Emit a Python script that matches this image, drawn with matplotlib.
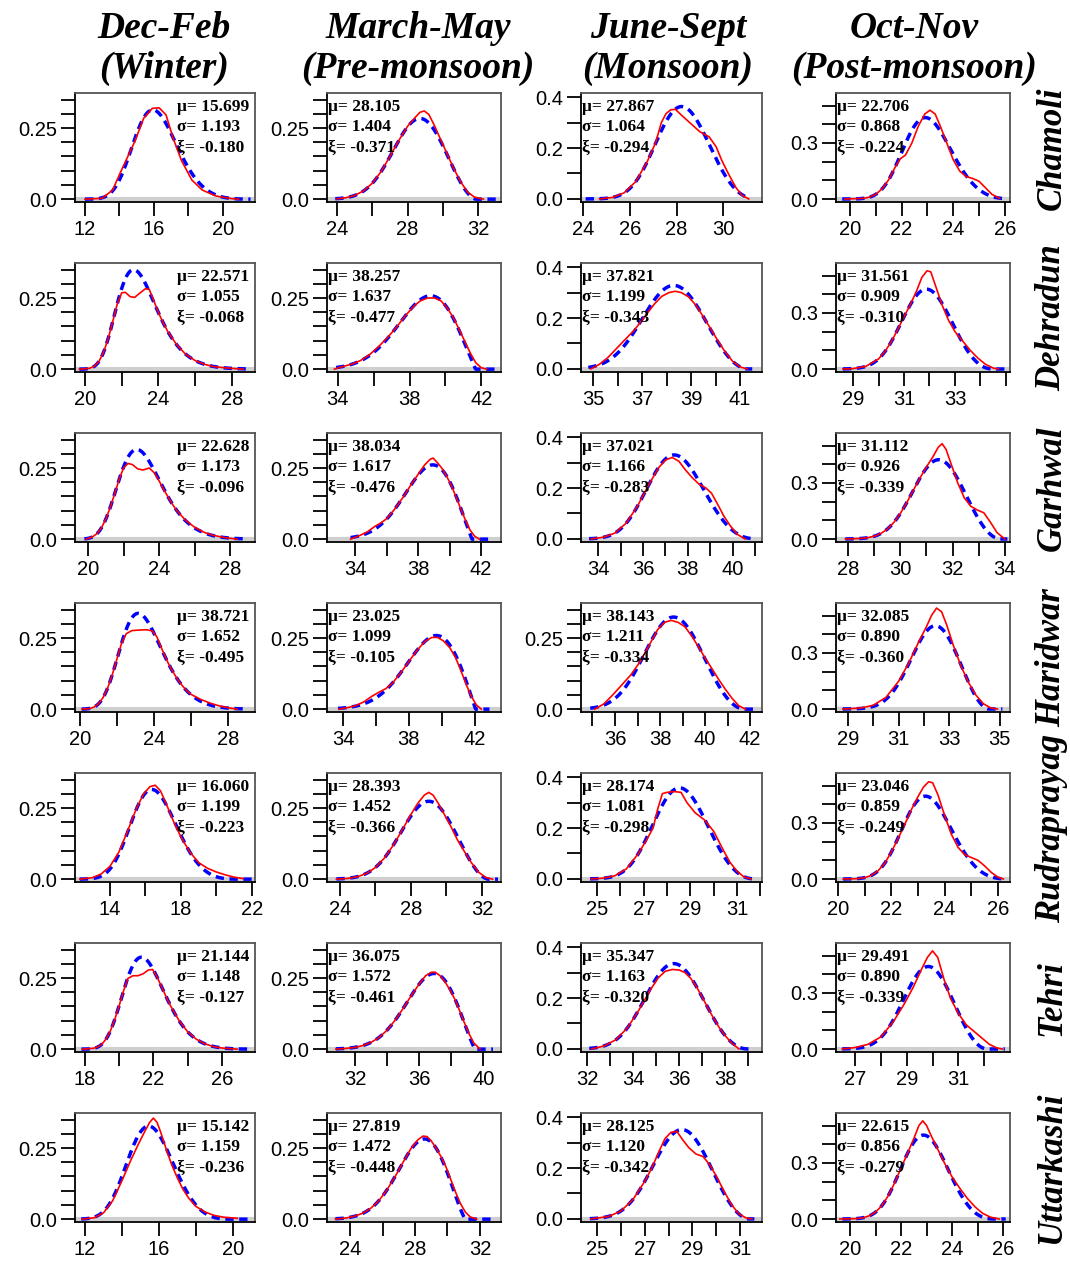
"""Seasonal maximum-temperature densities with GEV fits for seven stations."""

import matplotlib

matplotlib.use("Agg")
import matplotlib.pyplot as plt  # noqa: E402
import numpy as np  # noqa: E402

SEASONS = [("Dec-Feb", "(Winter)"), ("March-May", "(Pre-monsoon)"),
           ("June-Sept", "(Monsoon)"), ("Oct-Nov", "(Post-monsoon)")]
STATIONS = ["Chamoli", "Dehradun", "Garhwal", "Haridwar",
            "Rudraprayag", "Tehri", "Uttarkashi"]

# GEV parameters as printed in each panel (rows = stations, cols = seasons)
MU = [[15.699, 28.105, 27.867, 22.706],
      [22.571, 38.257, 37.821, 31.561],
      [22.628, 38.034, 37.021, 31.112],
      [38.721, 23.025, 38.143, 32.085],
      [16.060, 28.393, 28.174, 23.046],
      [21.144, 36.075, 35.347, 29.491],
      [15.142, 27.819, 28.125, 22.615]]
SIGMA = [[1.193, 1.404, 1.064, 0.868],
         [1.055, 1.637, 1.199, 0.909],
         [1.173, 1.617, 1.166, 0.926],
         [1.652, 1.099, 1.211, 0.890],
         [1.199, 1.452, 1.081, 0.859],
         [1.148, 1.572, 1.163, 0.890],
         [1.159, 1.472, 1.120, 0.856]]
XI = [[-0.180, -0.371, -0.294, -0.224],
      [-0.068, -0.477, -0.343, -0.310],
      [-0.096, -0.476, -0.283, -0.339],
      [-0.495, -0.105, -0.334, -0.360],
      [-0.223, -0.366, -0.298, -0.249],
      [-0.127, -0.461, -0.320, -0.339],
      [-0.236, -0.448, -0.342, -0.279]]
# Haridwar's winter / pre-monsoon boxes carry each other's parameters
FIT_SWAP = {(3, 0): (3, 1), (3, 1): (3, 0)}

# x-range over which the fitted curve is drawn
FIT_SPAN = [[(12.0, 21.6), (23.9, 33.0), (24.1, 31.1), (19.7, 26.1)],
            [(19.7, 29.0), (33.9, 42.8), (34.8, 41.5), (28.6, 35.0)],
            [(19.8, 29.0), (33.7, 42.8), (33.6, 40.9), (27.9, 34.1)],
            [(20.1, 29.0), (33.7, 42.9), (34.9, 42.2), (28.8, 35.1)],
            [(12.3, 22.0), (23.8, 32.9), (24.7, 31.8), (20.2, 26.3)],
            [(17.8, 27.6), (30.8, 40.6), (32.1, 39.2), (26.5, 32.8)],
            [(11.8, 21.0), (23.1, 32.9), (24.7, 31.6), (19.7, 26.1)]]

# empirical (kernel) densities, one (x, y) pair per season
red_chamoli = [
    ([12.0, 13.0, 13.6, 14.1, 14.9, 15.4, 15.9, 16.3, 16.7, 17.1, 17.6, 18.2, 18.8, 19.6, 20.5, 20.9],
     [0.0, 0.003, 0.032, 0.100, 0.204, 0.284, 0.319, 0.321, 0.296, 0.216, 0.135, 0.067, 0.032, 0.011, 0.002, 0.0]),
    ([24.0, 24.5, 25.0, 25.5, 26.0, 26.5, 27.0, 27.5, 28.0, 28.4, 28.7, 28.95, 29.2, 29.5, 29.8, 30.2, 30.6, 31.0, 31.4, 31.8, 32.3],
     [0.001, 0.005, 0.013, 0.029, 0.056, 0.097, 0.150, 0.206, 0.256, 0.285, 0.305, 0.310, 0.298, 0.262, 0.220, 0.165, 0.110, 0.062, 0.025, 0.007, 0.0]),
    ([24.7, 25.25, 25.75, 26.25, 26.75, 27.1, 27.35, 27.55, 27.75, 27.95, 28.2, 28.6, 29.0, 29.4, 29.7, 29.95, 30.25, 30.55, 30.8, 31.1],
     [0.0, 0.006, 0.024, 0.068, 0.148, 0.220, 0.300, 0.335, 0.350, 0.352, 0.330, 0.297, 0.264, 0.244, 0.205, 0.150, 0.095, 0.045, 0.015, 0.0]),
    ([19.8, 20.5, 20.75, 21.0, 21.25, 21.5, 21.75, 21.95, 22.15, 22.4, 22.65, 22.9, 23.1, 23.3, 23.5, 23.75, 24.0, 24.25, 24.5, 24.75, 25.0, 25.25, 25.5, 25.8],
     [0.0, 0.003, 0.010, 0.025, 0.055, 0.103, 0.170, 0.215, 0.235, 0.300, 0.390, 0.455, 0.475, 0.455, 0.390, 0.300, 0.210, 0.150, 0.120, 0.110, 0.095, 0.060, 0.025, 0.003]),
]
red_dehradun = [
    ([19.7, 20.25, 20.5, 20.75, 21.0, 21.25, 21.5, 21.75, 22.0, 22.2, 22.45, 22.7, 23.0, 23.3, 23.5, 23.75, 24.0, 24.25, 24.5, 25.0, 25.5, 26.0, 26.5, 27.0, 27.75, 28.6],
     [0.0, 0.003, 0.010, 0.026, 0.057, 0.104, 0.164, 0.227, 0.268, 0.270, 0.255, 0.252, 0.268, 0.283, 0.280, 0.240, 0.198, 0.164, 0.133, 0.085, 0.051, 0.030, 0.017, 0.009, 0.004, 0.0]),
    ([33.8, 34.25, 34.75, 35.25, 35.75, 36.25, 36.75, 37.25, 37.75, 38.25, 38.6, 39.0, 39.4, 39.75, 40.1, 40.45, 40.8, 41.1, 41.4, 41.7, 42.0, 42.3],
     [0.0, 0.009, 0.017, 0.030, 0.050, 0.078, 0.110, 0.146, 0.187, 0.222, 0.240, 0.250, 0.250, 0.240, 0.215, 0.180, 0.135, 0.095, 0.055, 0.022, 0.005, 0.0]),
    ([34.9, 35.25, 35.6, 35.9, 36.3, 36.7, 37.1, 37.5, 37.8, 38.1, 38.35, 38.6, 38.9, 39.2, 39.5, 39.8, 40.1, 40.4, 40.7, 41.0, 41.3],
     [0.0, 0.018, 0.045, 0.075, 0.115, 0.155, 0.205, 0.255, 0.285, 0.300, 0.305, 0.300, 0.283, 0.250, 0.205, 0.158, 0.110, 0.066, 0.030, 0.008, 0.0]),
    ([28.6, 29.0, 29.5, 30.0, 30.25, 30.5, 30.75, 31.0, 31.25, 31.5, 31.7, 31.9, 32.05, 32.25, 32.5, 32.75, 33.0, 33.3, 33.6, 33.9, 34.2, 34.5, 34.7],
     [0.0, 0.002, 0.014, 0.054, 0.093, 0.146, 0.210, 0.280, 0.345, 0.420, 0.490, 0.525, 0.520, 0.440, 0.340, 0.260, 0.200, 0.150, 0.100, 0.058, 0.025, 0.005, 0.0]),
]
red_garhwal = [
    ([19.9, 20.25, 20.5, 20.75, 21.0, 21.25, 21.5, 21.75, 22.0, 22.25, 22.5, 22.8, 23.1, 23.45, 23.75, 24.0, 24.25, 24.5, 24.75, 25.0, 25.5, 26.0, 26.5, 27.0, 27.75, 28.4],
     [0.0, 0.008, 0.019, 0.039, 0.070, 0.111, 0.159, 0.209, 0.250, 0.266, 0.262, 0.247, 0.243, 0.250, 0.232, 0.205, 0.176, 0.149, 0.123, 0.100, 0.066, 0.042, 0.025, 0.014, 0.005, 0.0]),
    ([33.7, 34.25, 34.75, 35.25, 35.6, 36.0, 36.5, 37.0, 37.5, 38.0, 38.4, 38.75, 38.95, 39.2, 39.5, 39.8, 40.1, 40.4, 40.7, 41.0, 41.3, 41.6, 41.9],
     [0.0, 0.012, 0.025, 0.045, 0.056, 0.072, 0.105, 0.144, 0.187, 0.228, 0.260, 0.280, 0.285, 0.270, 0.250, 0.222, 0.190, 0.150, 0.108, 0.068, 0.032, 0.010, 0.0]),
    ([33.7, 34.25, 34.75, 35.25, 35.75, 36.25, 36.7, 37.0, 37.3, 37.6, 37.9, 38.2, 38.5, 38.8, 39.05, 39.3, 39.6, 39.9, 40.2, 40.55],
     [0.0, 0.007, 0.023, 0.062, 0.128, 0.212, 0.280, 0.310, 0.320, 0.305, 0.270, 0.240, 0.215, 0.200, 0.180, 0.140, 0.090, 0.050, 0.018, 0.0]),
    ([27.9, 28.5, 28.75, 29.0, 29.25, 29.5, 29.75, 30.0, 30.25, 30.5, 30.75, 31.0, 31.25, 31.45, 31.6, 31.75, 31.95, 32.2, 32.45, 32.7, 32.95, 33.2, 33.45, 33.7, 34.0],
     [0.0, 0.003, 0.007, 0.015, 0.029, 0.052, 0.088, 0.136, 0.195, 0.261, 0.325, 0.385, 0.440, 0.490, 0.510, 0.480, 0.400, 0.300, 0.220, 0.175, 0.155, 0.140, 0.090, 0.035, 0.0]),
]
red_haridwar = [
    ([20.1, 20.5, 20.75, 21.0, 21.25, 21.5, 21.75, 22.0, 22.25, 22.5, 22.8, 23.2, 23.6, 23.9, 24.15, 24.4, 24.75, 25.0, 25.25, 25.5, 25.75, 26.0, 26.5, 27.0, 27.5, 28.0, 28.5],
     [0.0, 0.002, 0.007, 0.019, 0.041, 0.075, 0.122, 0.177, 0.232, 0.265, 0.276, 0.278, 0.279, 0.275, 0.255, 0.215, 0.164, 0.134, 0.107, 0.085, 0.066, 0.052, 0.035, 0.022, 0.012, 0.005, 0.0]),
    ([33.75, 34.25, 34.75, 35.25, 35.75, 36.2, 36.6, 37.0, 37.5, 38.0, 38.5, 39.0, 39.4, 39.75, 40.1, 40.5, 40.85, 41.2, 41.5, 41.8, 42.1, 42.4],
     [0.0, 0.005, 0.012, 0.025, 0.045, 0.060, 0.072, 0.091, 0.127, 0.167, 0.207, 0.239, 0.252, 0.252, 0.240, 0.215, 0.180, 0.130, 0.085, 0.045, 0.015, 0.0]),
    ([35.1, 35.5, 35.9, 36.3, 36.7, 37.1, 37.5, 37.9, 38.2, 38.5, 38.8, 39.1, 39.4, 39.7, 40.0, 40.3, 40.6, 40.9, 41.2, 41.5, 41.8],
     [0.0, 0.018, 0.050, 0.085, 0.120, 0.165, 0.222, 0.280, 0.305, 0.312, 0.305, 0.290, 0.258, 0.220, 0.180, 0.143, 0.105, 0.070, 0.038, 0.012, 0.0]),
    ([28.8, 29.5, 30.0, 30.5, 31.0, 31.4, 31.8, 32.1, 32.3, 32.5, 32.7, 32.9, 33.15, 33.45, 33.75, 34.05, 34.35, 34.65, 34.9],
     [0.0, 0.005, 0.020, 0.062, 0.148, 0.245, 0.360, 0.440, 0.500, 0.540, 0.520, 0.450, 0.345, 0.235, 0.145, 0.075, 0.028, 0.005, 0.0]),
]
red_rudraprayag = [
    ([12.3, 13.0, 13.5, 14.0, 14.5, 15.0, 15.5, 15.9, 16.25, 16.55, 16.85, 17.2, 17.6, 18.0, 18.5, 19.0, 19.5, 20.0, 20.5, 21.0, 21.5],
     [0.0, 0.005, 0.018, 0.045, 0.095, 0.170, 0.250, 0.300, 0.325, 0.330, 0.310, 0.260, 0.200, 0.148, 0.095, 0.058, 0.038, 0.025, 0.015, 0.007, 0.002]),
    ([23.8, 24.5, 25.0, 25.5, 26.0, 26.5, 27.0, 27.5, 28.0, 28.4, 28.75, 29.0, 29.25, 29.55, 29.9, 30.25, 30.6, 31.0, 31.4, 31.8, 32.2, 32.6],
     [0.0, 0.003, 0.009, 0.020, 0.041, 0.074, 0.119, 0.172, 0.228, 0.268, 0.295, 0.305, 0.295, 0.265, 0.225, 0.185, 0.140, 0.098, 0.058, 0.025, 0.006, 0.0]),
    ([24.75, 25.25, 25.75, 26.25, 26.75, 27.1, 27.4, 27.6, 27.8, 28.0, 28.3, 28.6, 28.85, 29.2, 29.6, 30.0, 30.4, 30.7, 31.0, 31.3, 31.6],
     [0.0, 0.003, 0.012, 0.039, 0.097, 0.150, 0.200, 0.275, 0.335, 0.340, 0.343, 0.340, 0.300, 0.260, 0.232, 0.187, 0.115, 0.065, 0.030, 0.008, 0.0]),
    ([20.2, 20.75, 21.0, 21.25, 21.5, 21.75, 22.0, 22.25, 22.5, 22.75, 23.0, 23.2, 23.4, 23.55, 23.75, 24.0, 24.25, 24.5, 24.75, 25.0, 25.25, 25.5, 25.75, 26.0, 26.2],
     [0.0, 0.002, 0.007, 0.019, 0.043, 0.083, 0.143, 0.215, 0.290, 0.370, 0.440, 0.490, 0.520, 0.515, 0.450, 0.340, 0.240, 0.170, 0.130, 0.115, 0.100, 0.070, 0.035, 0.010, 0.0]),
]
red_tehri = [
    ([17.85, 18.5, 18.75, 19.0, 19.25, 19.5, 19.75, 20.0, 20.25, 20.5, 20.8, 21.1, 21.4, 21.7, 21.95, 22.2, 22.5, 22.75, 23.0, 23.5, 24.0, 24.5, 25.0, 25.5, 26.0, 26.9],
     [0.0, 0.003, 0.008, 0.018, 0.037, 0.066, 0.106, 0.153, 0.204, 0.248, 0.258, 0.258, 0.265, 0.278, 0.280, 0.255, 0.216, 0.183, 0.152, 0.100, 0.061, 0.035, 0.019, 0.009, 0.004, 0.0]),
    ([30.8, 31.5, 32.0, 32.5, 33.0, 33.5, 34.0, 34.5, 35.0, 35.5, 36.0, 36.4, 36.75, 37.0, 37.3, 37.6, 37.9, 38.2, 38.5, 38.8, 39.1, 39.4, 39.8],
     [0.0, 0.003, 0.006, 0.013, 0.024, 0.041, 0.067, 0.102, 0.143, 0.188, 0.229, 0.258, 0.270, 0.270, 0.258, 0.237, 0.210, 0.178, 0.138, 0.095, 0.055, 0.022, 0.0]),
    ([32.2, 32.75, 33.25, 33.75, 34.25, 34.75, 35.1, 35.4, 35.7, 36.0, 36.25, 36.5, 36.75, 37.0, 37.25, 37.5, 37.75, 38.0, 38.3, 38.6],
     [0.0, 0.012, 0.036, 0.082, 0.152, 0.232, 0.280, 0.305, 0.312, 0.310, 0.300, 0.278, 0.245, 0.204, 0.161, 0.120, 0.083, 0.052, 0.022, 0.0]),
    ([26.5, 27.0, 27.5, 28.0, 28.5, 28.9, 29.25, 29.55, 29.8, 30.0, 30.2, 30.45, 30.7, 31.0, 31.3, 31.6, 31.9, 32.2, 32.5, 32.7],
     [0.0, 0.008, 0.025, 0.065, 0.150, 0.240, 0.330, 0.420, 0.490, 0.525, 0.490, 0.370, 0.270, 0.190, 0.130, 0.095, 0.060, 0.025, 0.005, 0.0]),
]
red_uttarkashi = [
    ([11.85, 12.5, 13.0, 13.5, 14.0, 14.5, 14.9, 15.25, 15.5, 15.7, 15.9, 16.1, 16.4, 16.7, 17.0, 17.3, 17.6, 18.0, 18.5, 19.0, 19.5, 20.25],
     [0.0, 0.005, 0.022, 0.065, 0.135, 0.210, 0.265, 0.310, 0.340, 0.355, 0.340, 0.305, 0.245, 0.190, 0.145, 0.105, 0.075, 0.045, 0.025, 0.013, 0.007, 0.003]),
    ([23.1, 23.75, 24.25, 24.75, 25.25, 25.75, 26.25, 26.75, 27.25, 27.75, 28.2, 28.5, 28.75, 29.0, 29.3, 29.6, 29.9, 30.2, 30.5, 30.8, 31.1, 31.4, 31.8],
     [0.0, 0.004, 0.010, 0.020, 0.037, 0.063, 0.101, 0.147, 0.198, 0.248, 0.280, 0.292, 0.290, 0.275, 0.250, 0.220, 0.185, 0.140, 0.095, 0.055, 0.025, 0.008, 0.0]),
    ([24.75, 25.5, 26.0, 26.5, 27.0, 27.3, 27.6, 27.85, 28.1, 28.35, 28.6, 28.85, 29.15, 29.45, 29.75, 30.05, 30.35, 30.65, 30.95, 31.25, 31.5],
     [0.0, 0.010, 0.031, 0.075, 0.147, 0.200, 0.265, 0.315, 0.340, 0.344, 0.310, 0.280, 0.255, 0.245, 0.210, 0.160, 0.105, 0.055, 0.020, 0.004, 0.0]),
    ([19.6, 20.25, 20.5, 20.75, 21.0, 21.25, 21.5, 21.75, 22.0, 22.25, 22.5, 22.7, 22.85, 23.0, 23.2, 23.45, 23.7, 24.0, 24.3, 24.6, 24.9, 25.2, 25.5, 25.85],
     [0.0, 0.002, 0.006, 0.017, 0.037, 0.072, 0.125, 0.194, 0.273, 0.350, 0.430, 0.500, 0.525, 0.500, 0.440, 0.370, 0.300, 0.225, 0.165, 0.110, 0.065, 0.030, 0.010, 0.0]),
]
RED = [red_chamoli, red_dehradun, red_garhwal, red_haridwar,
       red_rudraprayag, red_tehri, red_uttarkashi]

# x axis per panel: limits, minor step, labelled ticks
XLIM = [[(11.42, 21.86), (23.43, 33.3), (23.9, 31.67), (19.46, 26.2)],
        [(19.46, 29.25), (33.39, 43.1), (34.5, 41.9), (28.33, 35.16)],
        [(19.27, 29.4), (32.2, 43.27), (33.24, 41.3), (27.54, 34.2)],
        [(19.73, 29.46), (33.03, 43.6), (34.49, 42.53), (28.53, 35.4)],
        [(12.03, 22.17), (23.27, 33.07), (24.31, 32.07), (19.93, 26.45)],
        [(17.42, 27.93), (30.25, 41.1), (31.74, 39.6), (26.26, 33.0)],
        [(11.46, 21.2), (22.58, 33.3), (24.33, 31.92), (19.45, 26.27)]]
XSTEP = [[2, 2, 2, 1], [2, 2, 1, 1], [2, 2, 1, 1], [2, 2, 1, 1],
         [2, 2, 1, 1], [2, 2, 1, 1], [2, 2, 1, 1]]
XLABELS = [[[12, 16, 20], [24, 28, 32], [24, 26, 28, 30], [20, 22, 24, 26]],
           [[20, 24, 28], [34, 38, 42], [35, 37, 39, 41], [29, 31, 33]],
           [[20, 24, 28], [34, 38, 42], [34, 36, 38, 40], [28, 30, 32, 34]],
           [[20, 24, 28], [34, 38, 42], [36, 38, 40, 42], [29, 31, 33, 35]],
           [[14, 18, 22], [24, 28, 32], [25, 27, 29, 31], [20, 22, 24, 26]],
           [[18, 22, 26], [32, 36, 40], [32, 34, 36, 38], [27, 29, 31]],
           [[12, 16, 20], [24, 28, 32], [25, 27, 29, 31], [20, 22, 24, 26]]]

# y axis styles: (ylim, tick step, top tick, labelled ticks)
Y_LOW = ((-0.01, 0.373), 0.05, 0.35, {0.0: "0.0", 0.25: "0.25"})
Y_MON = ((-0.012, 0.416), 0.1, 0.4, {0.0: "0.0", 0.2: "0.2", 0.4: "0.4"})
Y_POST = ((-0.016, 0.567), 0.1, 0.5, {0.0: "0.0", 0.3: "0.3"})

COL_BOX = [(75, 180), (327, 174), (581, 181), (836, 174)]  # left, width in px
FIG_W, FIG_H = 1070, 1263
SERIF = "Liberation Serif"
SANS = "Liberation Sans"


def gev_pdf(x, mu, sigma, xi):
    s = 1.0 + xi * (x - mu) / sigma
    pdf = np.zeros_like(x)
    ok = s > 0
    t = s[ok] ** (-1.0 / xi)
    pdf[ok] = t ** (xi + 1.0) * np.exp(-t) / sigma
    return pdf


def y_style(r, c):
    if c == 2:
        return Y_LOW if r == 3 else Y_MON
    if c == 3:
        return Y_POST
    return Y_LOW


def draw_panel(ax, r, c):
    fr, fc = FIT_SWAP.get((r, c), (r, c))
    lo, hi = FIT_SPAN[r][c]
    xs = np.linspace(lo, hi, 300)
    ax.plot(xs, gev_pdf(xs, MU[fr][fc], SIGMA[fr][fc], XI[fr][fc]),
            color="#0000ff", lw=2.5, ls=(0, (2.4, 1.6)), zorder=3)
    rx, ry = RED[r][c]
    ax.plot(rx, ry, color="#ff0000", lw=1.2, zorder=4)
    ax.axhline(0, color="#cfcfcf", lw=3, zorder=1)

    ylim, ystep, ytop, ylabels = y_style(r, c)
    ax.set_ylim(*ylim)
    yt = np.round(np.arange(0, ytop + 1e-6, ystep), 3)
    ax.set_yticks(yt)
    ax.set_yticklabels([ylabels.get(round(v, 2), "") for v in yt])

    x0, x1 = XLIM[r][c]
    ax.set_xlim(x0, x1)
    labs = XLABELS[r][c]
    step = XSTEP[r][c]
    xt = np.arange(np.ceil(x0 / step) * step, x1, step)
    ax.set_xticks(xt)
    ax.set_xticklabels([f"{v:g}" if int(v) in labs else "" for v in xt])

    ax.tick_params(axis="both", direction="out", length=10, width=1.3,
                   labelsize=14.5, pad=3)
    for lab in ax.get_xticklabels() + ax.get_yticklabels():
        lab.set_fontfamily(SANS)
    for sp in ax.spines.values():
        sp.set_linewidth(1.3)
    ax.spines["top"].set_color("#555555")
    ax.spines["right"].set_color("#555555")

    tx = 0.567 if c == 0 else 0.008
    lines = [f"\u03bc= {MU[r][c]:.3f}", f"\u03c3= {SIGMA[r][c]:.3f}",
             f"\u03be= {XI[r][c]:.3f}"]
    for ty, txt in zip((0.87, 0.685, 0.5), lines):
        ax.text(tx, ty, txt, transform=ax.transAxes, ha="left", va="center",
                fontsize=12.5, fontweight="bold", family=SERIF, zorder=5)


fig = plt.figure(figsize=(FIG_W / 100, FIG_H / 100), dpi=100)
for r in range(len(STATIONS)):
    bottom = 1 - (202 + 170 * r) / FIG_H
    for c in range(len(SEASONS)):
        left, width = COL_BOX[c]
        ax = fig.add_axes([left / FIG_W, bottom, width / FIG_W, 109 / FIG_H])
        draw_panel(ax, r, c)
    fig.text(1052 / FIG_W, 1 - (148 + 170 * r) / FIG_H, STATIONS[r],
             rotation=90, ha="center", va="center", fontsize=25,
             fontweight="bold", fontstyle="italic", family=SERIF)

for (line1, line2), cx in zip(SEASONS, (164, 418, 668, 914)):
    fig.text(cx / FIG_W, 1 - 28 / FIG_H, line1, ha="center", va="center",
             fontsize=27, fontweight="bold", fontstyle="italic", family=SERIF)
    fig.text(cx / FIG_W, 1 - 68 / FIG_H, line2, ha="center", va="center",
             fontsize=27, fontweight="bold", fontstyle="italic", family=SERIF)

fig.savefig("out.png", dpi=100)
plt.close(fig)
